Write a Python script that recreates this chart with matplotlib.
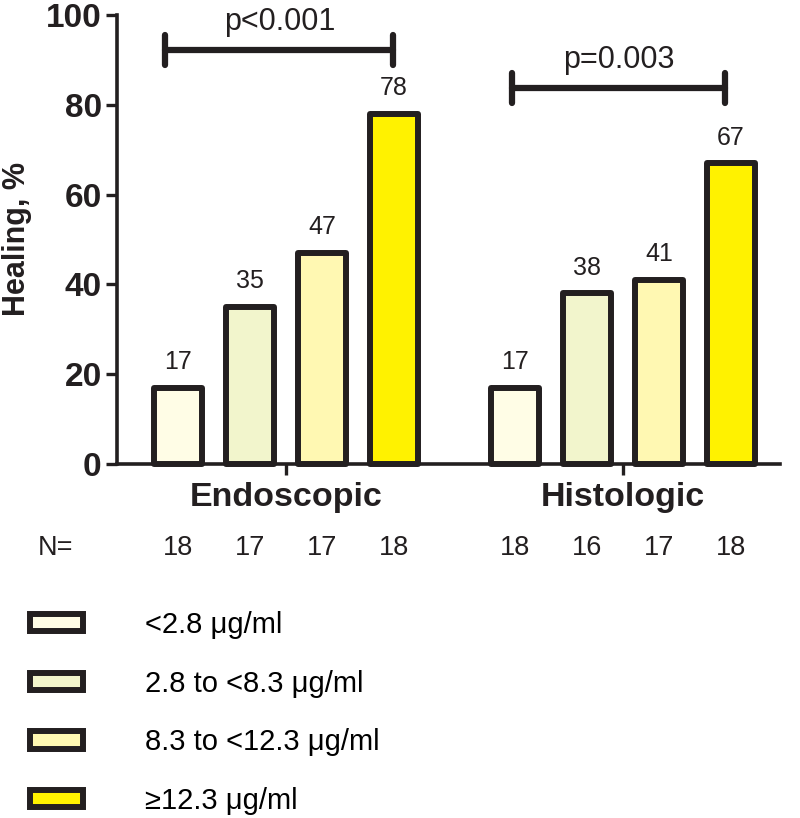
import numpy as np
import matplotlib
matplotlib.use("Agg")
import matplotlib.pyplot as plt
from matplotlib.transforms import blended_transform_factory

plt.rcParams['font.family'] = ['Liberation Sans', 'DejaVu Sans']

# data
groups = ["Endoscopic", "Histologic"]
levels = ["<2.8 \u03bcg/ml", "2.8 to <8.3 \u03bcg/ml", "8.3 to <12.3 \u03bcg/ml", "\u226512.3 \u03bcg/ml"]
endoscopic = [17, 35, 47, 78]
histologic = [17, 38, 41, 67]
n_endoscopic = [18, 17, 17, 18]
n_histologic = [18, 16, 17, 18]
p_values = ["p<0.001", "p=0.003"]

colors = ["#FFFDE6", "#F2F5CC", "#FFF8B2", "#FFF200"]
edge = "#231F20"

fig = plt.figure(figsize=(8, 8.18), dpi=100)
ax = fig.add_axes([117 / 800, 1 - 464 / 818, 663 / 800, 449 / 818])

gap = 1.68
width = 0.66
x_endo = np.arange(len(levels))
x_hist = x_endo + len(levels) - 1 + gap
handles = []
for i in range(len(levels)):
    for xs, vals in ((x_endo, endoscopic), (x_hist, histologic)):
        b = ax.bar(xs[i], vals[i], width=width, color=colors[i], edgecolor=edge,
                   linewidth=4.3, joinstyle='round', zorder=3, clip_on=False)
        ax.text(xs[i], vals[i] + 3, str(vals[i]), ha='center', va='bottom',
                fontsize=18, color=edge)
    handles.append(b[0])

ax.set_xlim(-0.85, 8.36)
ax.set_ylim(0, 100)
ax.set_yticks(np.arange(0, 101, 20))
for s in ["top", "right"]:
    ax.spines[s].set_visible(False)
for s in ["left", "bottom"]:
    ax.spines[s].set_linewidth(2.6)
    ax.spines[s].set_color(edge)
ax.tick_params(axis='y', length=8, width=2.4, pad=3, labelsize=24, colors=edge)
ax.tick_params(axis='x', length=8, width=2.4, pad=5, labelsize=24.5, colors=edge)
for lab in ax.get_yticklabels():
    lab.set_fontweight('bold')
ax.set_xticks([x_endo.mean(), x_hist.mean()])
ax.set_xticklabels(groups, fontweight='bold')
ax.set_ylabel("Healing, %", fontsize=22, fontweight='bold', color=edge, va='center')
ax.yaxis.set_label_coords(-0.151, 0.5)

# significance brackets
brackets = [(-0.18, 2.99, 92.2), (4.64, 7.6, 83.7)]
for (x0, x1, y), p in zip(brackets, p_values):
    ax.plot([x0, x1], [y, y], color=edge, lw=4.5, solid_capstyle='round', clip_on=False)
    for xx in (x0, x1):
        ax.plot([xx, xx], [y - 3.3, y + 3.3], color=edge, lw=4.5,
                solid_capstyle='round', clip_on=False)
    ax.text((x0 + x1) / 2, y + 3, p, ha='center', va='bottom', fontsize=22, color=edge)

# N row
tr = blended_transform_factory(ax.transData, ax.transAxes)
n_y = -0.187
ax.text(-1.71, n_y, "N=", transform=tr, ha='center', va='center', fontsize=19.5, color=edge)
for xs, ns in ((x_endo, n_endoscopic), (x_hist, n_histologic)):
    for xx, n in zip(xs, ns):
        ax.text(xx, n_y, str(n), transform=tr, ha='center', va='center', fontsize=19.5, color=edge)

fig.legend(handles, levels, loc='upper left', bbox_to_anchor=(30 / 800, 1 - 611 / 818),
           frameon=False, fontsize=21, handlelength=1.8, handleheight=0.55,
           handletextpad=2.15, labelspacing=1.05, borderpad=0, borderaxespad=0)

fig.savefig("out.png", dpi=100)
